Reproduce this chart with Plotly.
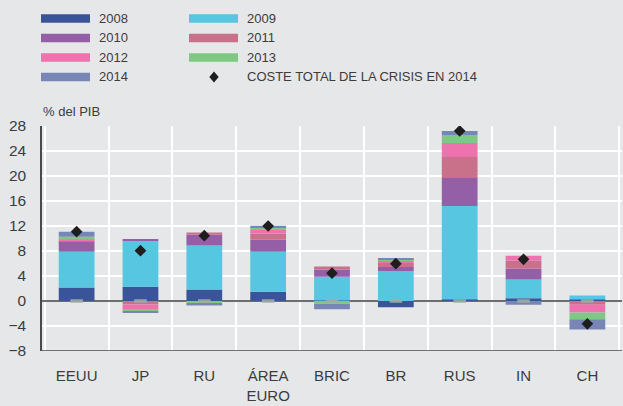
import plotly.graph_objects as go

categories = ["EEUU", "JP", "RU", "ÁREA<br>EURO", "BRIC", "BR", "RUS", "IN", "CH"]
series_names = ["2008", "2009", "2010", "2011", "2012", "2013", "2014"]
v2008 = [2.15, 2.3, 1.85, 1.5, 0.1, -1.0, 0.25, 0.45, 0.25]
v2009 = [5.75, 7.4, 7.05, 6.4, 3.8, 4.75, 14.95, 2.98, 0.63]
v2010 = [1.65, 0.1, 1.7, 1.9, 1.15, 0.7, 4.5, 1.77, 0.0]
v2011 = [0.05, -0.55, 0.35, 1.0, 0.48, 0.64, 3.35, 1.26, -0.6]
v2012 = [0.25, -0.8, -0.1, 0.6, 0.0, 0.37, 2.25, 0.8, -1.25]
v2013 = [0.43, -0.27, -0.2, 0.3, -0.45, 0.16, 1.25, 0.0, -1.05]
v2014 = [0.8, -0.15, -0.4, 0.35, -0.85, 0.16, 0.65, -0.6, -1.65]
total_cost = [11.1, 8.05, 10.45, 12.0, 4.45, 5.98, 27.2, 6.67, -3.65]
zero_marks = [0, 0, 0, 0, 0, 0, 0, 0, 0]
total_name = "COSTE TOTAL DE LA CRISIS EN 2014"
y_title = "% del PIB"
y_ticks = [-8, -4, 0, 4, 8, 12, 16, 20, 24, 28]

series_values = [v2008, v2009, v2010, v2011, v2012, v2013, v2014]
colors = ["#3a5499", "#57c6e0", "#955fa8", "#c9718b", "#ed72ad", "#7ec883", "#7886b6"]

BG = "#e6e7e8"
TXT = "#3c3c3c"
FONT = "Liberation Sans, Arial, sans-serif"

fig = go.Figure()
for name, vals, col in zip(series_names, series_values, colors):
    fig.add_trace(go.Bar(x=categories, y=vals, name=name, marker=dict(color=col, line=dict(width=0)),
                         showlegend=False))

fig.add_trace(go.Scatter(x=categories, y=zero_marks, mode="markers", showlegend=False,
                         marker=dict(symbol="line-ew", size=9,
                                     line=dict(width=3.5, color="rgba(160,172,165,0.9)"))))
fig.add_trace(go.Scatter(x=categories, y=total_cost, mode="markers", name=total_name, showlegend=False,
                         marker=dict(symbol="diamond", size=9, color="#1e1e1e")))

# pixel -> paper helpers (plot area: x 42..622, y 126..351)
L, R, T, B = 42, 622, 126, 351
def px(x):
    return (x - L) / (R - L)
def py(y):
    return (B - y) / (B - T)

shapes = []
annotations = []
rows = [18.5, 38.0, 57.5, 77.0]
legend_items = [(series_names[0], colors[0], 0, 0), (series_names[1], colors[1], 1, 0),
                (series_names[2], colors[2], 0, 1), (series_names[3], colors[3], 1, 1),
                (series_names[4], colors[4], 0, 2), (series_names[5], colors[5], 1, 2),
                (series_names[6], colors[6], 0, 3)]
col_sw = [(41, 90, 96.5), (189, 238, 245)]
for name, col, c, r in legend_items:
    x0, x1, tx = col_sw[c]
    yc = rows[r]
    shapes.append(dict(type="rect", xref="paper", yref="paper", x0=px(x0), x1=px(x1),
                       y0=py(yc + 4.3), y1=py(yc - 4.3), fillcolor=col, line=dict(width=0)))
    annotations.append(dict(text=name, xref="paper", yref="paper", x=px(tx), y=py(yc),
                            xanchor="left", yanchor="middle", showarrow=False,
                            font=dict(size=13, color=TXT, family=FONT)))
# diamond legend
dx, dy, hs = 214, rows[3], 5.5
path = "M {} {} L {} {} L {} {} L {} {} Z".format(px(dx), py(dy - hs), px(dx + hs * 0.85), py(dy),
                                                  px(dx), py(dy + hs), px(dx - hs * 0.85), py(dy))
shapes.append(dict(type="path", xref="paper", yref="paper", path=path, fillcolor="#1e1e1e",
                   line=dict(width=0)))
annotations.append(dict(text=total_name, xref="paper", yref="paper", x=px(col_sw[1][2]), y=py(rows[3]),
                        xanchor="left", yanchor="middle", showarrow=False,
                        font=dict(size=13, color=TXT, family=FONT)))
annotations.append(dict(text=y_title, xref="paper", yref="paper", x=px(41), y=py(111.7),
                        xanchor="left", yanchor="middle", showarrow=False,
                        font=dict(size=13, color=TXT, family=FONT)))

fig.update_layout(
    width=623, height=406,
    margin=dict(l=L, r=623 - R, t=T, b=406 - B, autoexpand=False),
    paper_bgcolor=BG, plot_bgcolor=BG,
    barmode="relative", bargap=0.44,
    font=dict(family=FONT, color=TXT, size=15),
    shapes=shapes, annotations=annotations,
    showlegend=False,
)
fig.update_xaxes(type="category", tickson="boundaries", showgrid=True, gridcolor="white", gridwidth=2,
                 ticks="", showline=False, tickfont=dict(size=15, color=TXT, family=FONT),
                 ticklabelstandoff=14, automargin=False)
fig.update_yaxes(range=[-8, 28], tickvals=y_ticks, showgrid=True, gridcolor="white", gridwidth=2,
                 zeroline=True, zerolinecolor="#6e6e6e", zerolinewidth=2,
                 showline=True, linecolor="#4a4a4a", linewidth=1.5, mirror=False,
                 ticks="", tickfont=dict(size=15.5, color=TXT, family=FONT), ticklabelstandoff=11,
                 automargin=False)
# bottom axis line at -8
fig.add_shape(type="line", xref="paper", yref="y", x0=0, x1=1, y0=-8, y1=-8,
              line=dict(color="#4a4a4a", width=1.5))

fig.write_html("out.html", config={"displayModeBar": False},
               post_script="document.body.style.margin='0';document.body.style.overflow='hidden';")
